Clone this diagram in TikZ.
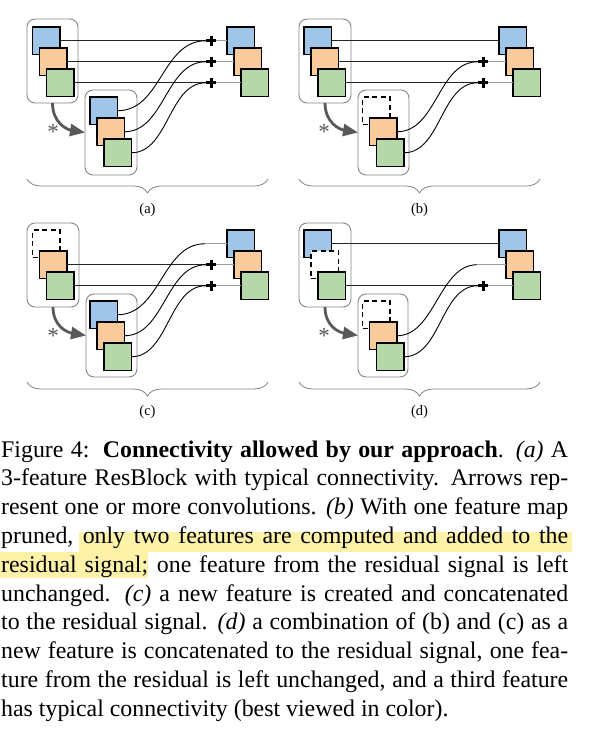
\documentclass[tikz,border=0pt]{standalone}
\usepackage{fontspec}
\setmainfont{Liberation Serif}
\usetikzlibrary{arrows.meta,decorations.pathreplacing}
\definecolor{cblue}{HTML}{9FC5E8}
\definecolor{corange}{HTML}{F9CB9C}
\definecolor{cgreen}{HTML}{B6D7A8}
\definecolor{boxgray}{HTML}{858585}
\definecolor{arrgray}{HTML}{595959}
\definecolor{lgray}{HTML}{A0A0A0}
\definecolor{hlyellow}{HTML}{FDF2A8}
\newcommand{\fmtrio}[6]{%
  \node[#4] (#1b) at (#2,#3) {};
  \node[#5] (#1o) at (#2+7,#3+21) {};
  \node[#6] (#1g) at (#2+14,#3+42) {};}
\newcommand{\fmplus}[2]{%
  \node[plusn] (#1) at (#2) {};
  \draw[plusbar] (#1.north) -- (#1.south) (#1.west) -- (#1.east);}
\begin{document}
\begin{tikzpicture}[x=1pt,y=-1pt,
  sq/.style={draw=black, line width=1.3pt, minimum width=27.5pt, minimum height=27.5pt, inner sep=0, outer sep=0, anchor=north west},
  sqB/.style={sq, fill=cblue},
  sqO/.style={sq, fill=corange},
  sqG/.style={sq, fill=cgreen},
  sqD/.style={sq, fill=white, dash pattern=on 5pt off 3.5pt},
  grpbox/.style={draw=boxgray, line width=0.9pt, rounded corners=8pt, fill=white, anchor=north west, inner sep=0, outer sep=0},
  plusn/.style={rectangle, minimum size=10.5pt, inner sep=0, outer sep=0},
  plusbar/.style={line width=3pt, black},
  sline/.style={line width=0.9pt, black!85},
  gline/.style={line width=0.9pt, lgray},
  curve/.style={line width=0.9pt, black},
  convarrow/.style={draw=arrgray, line width=2.8pt, -{Triangle[length=15pt,width=12pt]}},
  brc/.style={draw=boxgray, line width=0.8pt, decorate, decoration={brace, amplitude=14pt, mirror}},
  lbl/.style={font=\fontsize{14.5pt}{14.5pt}\selectfont, inner sep=0},
  starn/.style={font=\fontsize{23pt}{23pt}\selectfont, text=arrgray, inner sep=0, anchor=base},
  capl/.style={anchor=base west, inner sep=0, font=\fontsize{23.86pt}{28.8pt}\selectfont}]
\fill[white] (0,0) rectangle (595,736);
\useasboundingbox (0,0) rectangle (595,736);
\coordinate (ax) at (211,0);
\coordinate (bx) at (483,0);

% ---------- panel (a)
\node[grpbox, minimum width=51pt, minimum height=84pt] (aL) at (27,19) {};
\node[grpbox, minimum width=52pt, minimum height=85pt] (aM) at (85,90) {};
\fmtrio{aL}{32.5}{27}{sqB}{sqO}{sqG}
\fmtrio{aM}{90}{97}{sqB}{sqO}{sqG}
\fmtrio{aR}{227}{27}{sqB}{sqO}{sqG}
\fmplus{ap1}{aLb.east -| ax}
\fmplus{ap2}{aLo.east -| ax}
\fmplus{ap3}{aLg.east -| ax}
\draw[sline] (aLb.east) -- (ap1.west);
\draw[sline] (aLo.east) -- (ap2.west);
\draw[sline] (aLg.east) -- (ap3.west);
\draw[gline] (ap1.east) -- (aRb.west);
\draw[gline] (ap2.east) -- (aRo.west);
\draw[gline] (ap3.east) -- (aRg.west);
\draw[curve] (aMb.east) .. controls +(44,0) and +(-44,0) .. (ap1.west);
\draw[curve] (aMo.east) .. controls +(40,0) and +(-40,0) .. (ap2.west);
\draw[curve] (aMg.east) .. controls +(37,0) and +(-37,0) .. (ap3.west);
\draw[convarrow] (aL.south) .. controls +(0,20) and +(-18,-3) .. (aM.west);
\node[starn] (as) at (53,139) {*};
\draw[brc] (27,179) -- (268,179);
\node[lbl] (la) at (147.5,210) {(a)};

% ---------- panel (b)
\node[grpbox, minimum width=52pt, minimum height=84pt] (bL) at (299,19) {};
\node[grpbox, minimum width=51pt, minimum height=85pt] (bM) at (358,90) {};
\fmtrio{bL}{304}{27}{sqB}{sqO}{sqG}
\fmtrio{bM}{362.5}{97}{sqD}{sqO}{sqG}
\fmtrio{bR}{499}{27}{sqB}{sqO}{sqG}
\fmplus{bp2}{bLo.east -| bx}
\fmplus{bp3}{bLg.east -| bx}
\draw[sline] (bLb.east) -- (bRb.west);
\draw[sline] (bLo.east) -- (bp2.west);
\draw[sline] (bLg.east) -- (bp3.west);
\draw[gline] (bp2.east) -- (bRo.west);
\draw[gline] (bp3.east) -- (bRg.west);
\draw[curve] (bMo.east) .. controls +(40,0) and +(-40,0) .. (bp2.west);
\draw[curve] (bMg.east) .. controls +(37,0) and +(-37,0) .. (bp3.west);
\draw[convarrow] (bL.south) .. controls +(0,20) and +(-18,-3) .. (bM.west);
\node[starn] (bs) at (324,139) {*};
\draw[brc] (299,179) -- (540,179);
\node[lbl] (lb) at (419.5,210) {(b)};

% ---------- panel (c)
\node[grpbox, minimum width=52pt, minimum height=84pt] (cL) at (27,223) {};
\node[grpbox, minimum width=51pt, minimum height=83pt] (cM) at (86,294) {};
\fmtrio{cL}{32.5}{230}{sqD}{sqO}{sqG}
\fmtrio{cM}{90}{301}{sqB}{sqO}{sqG}
\fmtrio{cR}{227}{230}{sqB}{sqO}{sqG}
\coordinate (cj) at (205,243.75);
\fmplus{cp2}{cLo.east -| ax}
\fmplus{cp3}{cLg.east -| ax}
\draw[sline] (cLo.east) -- (cp2.west);
\draw[sline] (cLg.east) -- (cp3.west);
\draw[gline] (cj) -- (cRb.west);
\draw[gline] (cp2.east) -- (cRo.west);
\draw[gline] (cp3.east) -- (cRg.west);
\draw[curve] (cMb.east) .. controls +(43,0) and +(-43,0) .. (cj);
\draw[curve] (cMo.east) .. controls +(40,0) and +(-40,0) .. (cp2.west);
\draw[curve] (cMg.east) .. controls +(37,0) and +(-37,0) .. (cp3.west);
\draw[convarrow] (cL.south) .. controls +(0,20) and +(-18,-3) .. (cM.west);
\node[starn] (cs) at (53,343) {*};
\draw[brc] (27,382) -- (268,382);
\node[lbl] (lc) at (147.5,412) {(c)};

% ---------- panel (d)
\node[grpbox, minimum width=52pt, minimum height=84pt] (dL) at (299,223) {};
\node[grpbox, minimum width=50pt, minimum height=83pt] (dM) at (358,294) {};
\fmtrio{dL}{304}{230}{sqB}{sqD}{sqG}
\fmtrio{dM}{362.5}{301}{sqD}{sqO}{sqG}
\fmtrio{dR}{499}{230}{sqB}{sqO}{sqG}
\coordinate (dj) at (477,264.75);
\fmplus{dp3}{dLg.east -| bx}
\draw[sline] (dLb.east) -- (dRb.west);
\draw[sline] (dLg.east) -- (dp3.west);
\draw[gline] (dj) -- (dRo.west);
\draw[gline] (dp3.east) -- (dRg.west);
\draw[curve] (dMo.east) .. controls +(38,0) and +(-38,0) .. (dj);
\draw[curve] (dMg.east) .. controls +(37,0) and +(-37,0) .. (dp3.west);
\draw[convarrow] (dL.south) .. controls +(0,20) and +(-18,-3) .. (dM.west);
\node[starn] (ds) at (324,343) {*};
\draw[brc] (299,382) -- (540,382);
\node[lbl] (ld) at (419.5,412) {(d)};

% ---------- caption
\fill[hlyellow] (79,532) rectangle (572,552);
\fill[hlyellow] (0,552) rectangle (148,578);
\node[capl] (cap1) at (1,457) {\makebox[567pt][s]{Figure 4:\hspace{0.12em} \textbf{Connectivity allowed by our approach}. \textit{(a)} A}};
\node[capl] (cap2) at (1,485.8) {\makebox[567pt][s]{3-feature ResBlock with typical connectivity. Arrows rep-}};
\node[capl] (cap3) at (1,514.6) {\makebox[567pt][s]{resent one or more convolutions. \textit{(b)} With one feature map}};
\node[capl] (cap4) at (1,543.4) {\makebox[567pt][s]{pruned, only two features are computed and added to the}};
\node[capl] (cap5) at (1,572.2) {\makebox[567pt][s]{residual signal; one feature from the residual signal is left}};
\node[capl] (cap6) at (1,601) {\makebox[567pt][s]{unchanged. \textit{(c)} a new feature is created and concatenated}};
\node[capl] (cap7) at (1,629.8) {\makebox[567pt][s]{to the residual signal. \textit{(d)} a combination of (b) and (c) as a}};
\node[capl] (cap8) at (1,658.6) {\makebox[567pt][s]{new feature is concatenated to the residual signal, one fea-}};
\node[capl] (cap9) at (1,687.4) {\makebox[567pt][s]{ture from the residual is left unchanged, and a third feature}};
\node[capl] (cap10) at (1,716.2) {has typical connectivity (best viewed in color).};
\end{tikzpicture}
\end{document}
